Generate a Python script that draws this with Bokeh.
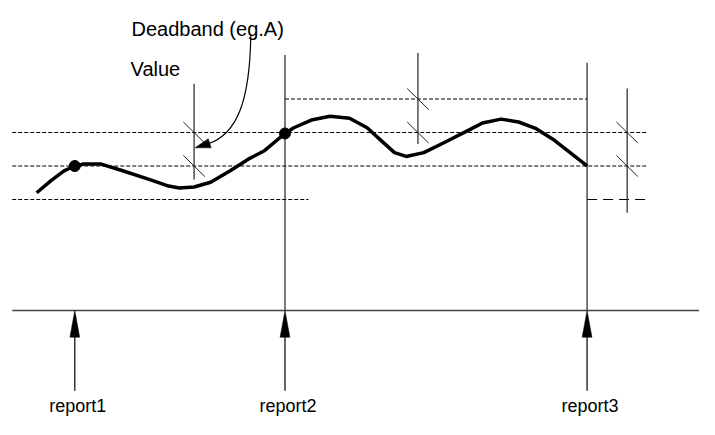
from bokeh.plotting import figure
from bokeh.models import Range1d
from bokeh.core.properties import value
from bokeh.embed import file_html
from bokeh.resources import INLINE

# ---- data (diagram coordinates, y grows downwards) ----
curve_x = [37, 52, 65, 76, 85, 103, 125, 152, 172, 183, 198, 215, 235, 255, 270, 291,
           300, 318, 337, 357, 375, 390, 403, 415, 433, 453, 480, 493, 512, 530, 548, 565, 600]
curve_y = [201, 188, 178, 173, 171, 171, 178, 187, 194, 196, 195, 190, 178, 165, 157, 139,
           133, 125, 121, 123, 133, 147, 159, 163, 159, 149, 135, 128, 124, 127, 134, 145, 173]

report_x = [76, 291, 600]
report_labels = ["report1", "report2", "report3"]
sample_x = [76, 291]
sample_y = [173, 139]

# deadband levels
band_y = [103, 138, 173, 208]
band_x0 = [291, 12, 12, 12]
band_x1 = [600, 662, 662, 315]

# short vertical measuring bars with slash marks
bar_x = [198, 427, 641]
bar_top = [87, 55, 92]
bar_bottom = [187, 150, 222]
slash_levels = [[138, 173], [103, 138], [138, 173]]

axis_y = 324

# ---- figure ----
p = figure(width=699, height=419, x_range=Range1d(0, 715), y_range=Range1d(438, 0),
           output_backend="svg", toolbar_location=None, min_border=0)
p.axis.visible = False
p.grid.visible = False
p.outline_line_color = None
p.background_fill_color = "white"
p.border_fill_color = "white"

FONT = value("Liberation Sans")

# dashed deadband lines
p.segment(x0=band_x0, y0=band_y, x1=band_x1, y1=band_y,
          line_color="black", line_width=1.1, line_dash="4 2")
# lower band after report3 (long dashes)
p.segment(x0=[report_x[2]], y0=[band_y[3]], x1=[662], y1=[band_y[3]],
          line_color="black", line_width=1.1, line_dash="10 6")

# vertical lines above the time axis at report2 / report3
p.segment(x0=[report_x[1], report_x[2]], y0=[57, 65],
          x1=[report_x[1], report_x[2]], y1=[axis_y, axis_y],
          line_color="#222222", line_width=1.2)

# measuring bars
p.segment(x0=bar_x, y0=bar_top, x1=bar_x, y1=bar_bottom, line_color="#222222", line_width=1.2)
sx0, sy0, sx1, sy1 = [], [], [], []
for bx, levels in zip(bar_x, slash_levels):
    for ly in levels:
        sx0.append(bx - 11); sy0.append(ly - 11)
        sx1.append(bx + 11); sy1.append(ly + 11)
p.segment(x0=sx0, y0=sy0, x1=sx1, y1=sy1, line_color="#222222", line_width=1)

# the value curve
p.line(curve_x, curve_y, line_color="black", line_width=3.5, line_join="round", line_cap="butt")
p.scatter(sample_x, sample_y, size=11, color="black")

# time axis
p.segment(x0=[12], y0=[axis_y], x1=[715], y1=[axis_y], line_color="#444444", line_width=1.6)

# report arrows
p.segment(x0=report_x, y0=[axis_y + 20] * 3, x1=report_x, y1=[408] * 3,
          line_color="black", line_width=1.2)
heads_x = [[x, x - 5, x + 5] for x in report_x]
heads_y = [[axis_y, axis_y + 28, axis_y + 28] for _ in report_x]
p.patches(heads_x, heads_y, fill_color="black", line_color="black", line_width=0.5)

# report labels
p.text(x=[x + 3 for x in report_x], y=[424] * 3, text=report_labels,
       text_font=FONT, text_font_size=value("18px"), text_align="center",
       text_baseline="alphabetic", text_color="black")

# annotation texts
p.text(x=[134, 133], y=[30, 72], text=["Deadband (eg.A)", "Value"],
       text_font=FONT, text_font_size=value("20px"), text_align="left",
       text_baseline="alphabetic", text_color="black")

# curved pointer arrow
p.bezier(x0=[256], y0=[37], x1=[212], y1=[150], cx0=[255], cy0=[105], cx1=[242], cy1=[140],
         line_color="black", line_width=1.2)
p.patch(x=[199, 215.5, 212.5], y=[154, 154, 144.5], fill_color="black", line_color="black",
        line_width=0.5)

open("out.html", "w").write(file_html(p, INLINE))
